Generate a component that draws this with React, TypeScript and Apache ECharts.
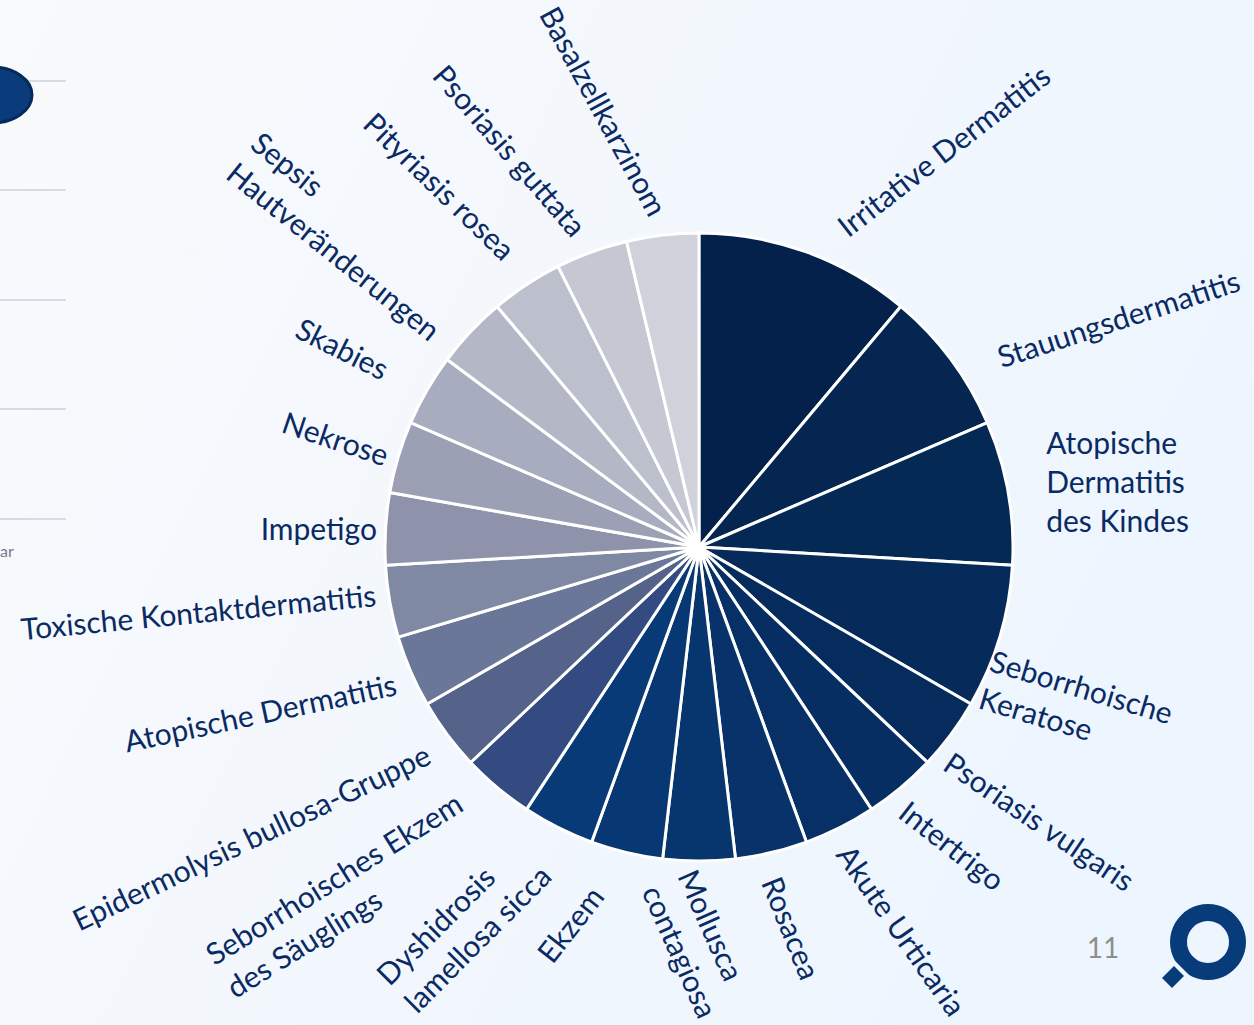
import React, { useEffect, useRef } from "react";
import * as echarts from "echarts";

// ---------- data ----------
const CATEGORIES = [
  "Irritative Dermatitis",
  "Stauungsdermatitis",
  "Atopische\nDermatitis\ndes Kindes",
  "Seborrhoische\nKeratose",
  "Psoriasis vulgaris",
  "Intertrigo",
  "Akute Urticaria",
  "Rosacea",
  "Mollusca\ncontagiosa",
  "Ekzem",
  "Dyshidrosis\nlamellosa sicca",
  "Seborrhoisches Ekzem\ndes Säuglings",
  "Epidermolysis bullosa-Gruppe",
  "Atopische Dermatitis",
  "Toxische Kontaktdermatitis",
  "Impetigo",
  "Nekrose",
  "Skabies",
  "Sepsis\nHautveränderungen",
  "Pityriasis rosea",
  "Psoriasis guttata",
  "Basalzellkarzinom",
];

const VALUES = [3, 2, 2, 2, 1, 1, 1, 1, 1, 1, 1, 1, 1, 1, 1, 1, 1, 1, 1, 1, 1, 1];

// ---------- styles ----------
const SLICE_COLORS = [
  "#03214a",
  "#052651",
  "#052955",
  "#062a59",
  "#062c5e",
  "#062e62",
  "#073066",
  "#07336a",
  "#07356e",
  "#073873",
  "#083a78",
  "#334b80",
  "#55638a",
  "#6a7798",
  "#7f89a3",
  "#8e92ab",
  "#9ba0b4",
  "#a8acbf",
  "#b3b7c6",
  "#bcbfcc",
  "#c5c8d2",
  "#cfd2da",
];

// label rotation (degrees, counter-clockwise positive)
const LABEL_ROTATE = [37.7, 18, 0, -16.6, -34, -38, -55, -68, -66, 52, 45, 32, 25.5, 12, 5.5, 0, -18.4, -26.6, -38.8, -44, -49, -61.5];
// distance of the label anchor outside the pie (radial and horizontal parts)
const LABEL_LINE_LEN = [24.3, 4.3, 64.4, 142.4, 41.1, 25.4, 23.1, 26.2, 18, 38.5, 32, 37.2, 29.4, 29.4, -44, 8.6, 6.6, 40, 19.8, 36.9, 22.2, 22.4];
const LABEL_LINE_LEN2 = [26.3, 43.7, -25.5, -150.3, -35.8, -13.2, -5.4, -5.6, -29, 21.6, 12.6, 4.2, -4.4, -12.2, 57, 0, 3.9, 5.4, 7.3, -4.6, 3, 0];

const TEXT_COLOR = "#0a2a63";
const FONT = "Lato, 'Noto Sans', sans-serif";
const FONT_SIZE = 30;
const LINE_HEIGHT = 39;
const BG_LOGO = "#eff6fe";
const GRID_Y = [81, 190, 300, 409, 519];

export default function App() {
  const ref = useRef<HTMLDivElement>(null);

  useEffect(() => {
    const chart = echarts.init(ref.current as HTMLDivElement, null, { renderer: "svg" });

    const data = CATEGORIES.map((name, i) => ({
      name,
      value: VALUES[i],
      itemStyle: { color: SLICE_COLORS[i] },
      label: { rotate: LABEL_ROTATE[i] },
      labelLine: { length: LABEL_LINE_LEN[i], length2: LABEL_LINE_LEN2[i] },
    }));

    chart.setOption({
      animation: false,
      backgroundColor: new echarts.graphic.LinearGradient(0, 0, 1, 0.4, [
        { offset: 0, color: "#f9fafc" },
        { offset: 1, color: "#edf5fe" },
      ]),
      series: [
        {
          type: "pie",
          center: [699, 547],
          radius: 314,
          startAngle: 90.01,
          clockwise: true,
          avoidLabelOverlap: false,
          labelLayout: { hideOverlap: false, moveOverlap: null },
          silent: true,
          emphasis: { disabled: true },
          itemStyle: { borderColor: "#ffffff", borderWidth: 3 },
          label: {
            show: true,
            position: "outside",
            distanceToLabelLine: 0,
            fontFamily: FONT,
            fontSize: FONT_SIZE,
            lineHeight: LINE_HEIGHT,
            color: TEXT_COLOR,
            formatter: (p: any) =>
              String(p.name)
                .split("\n")
                .map((s: string) => `{t|${s}}`)
                .join("\n"),
            rich: {
              t: {
                fontFamily: FONT,
                fontSize: FONT_SIZE,
                lineHeight: LINE_HEIGHT,
                color: TEXT_COLOR,
                align: "left",
              },
            },
          },
          labelLine: { show: false },
          data,
        },
      ],
      graphic: [
        ...GRID_Y.map((y) => ({
          type: "line",
          silent: true,
          shape: { x1: 0, y1: y, x2: 66, y2: y },
          style: { stroke: "#d8dbe3", lineWidth: 2 },
        })),
        {
          type: "ellipse",
          silent: true,
          shape: { cx: -8, cy: 95, rx: 40, ry: 28 },
          style: { fill: "#0a3b7b", stroke: "#042a5c", lineWidth: 3 },
        },
        {
          type: "text",
          silent: true,
          x: 0,
          y: 550,
          style: { text: "ar", fontSize: 16, fontFamily: FONT, fill: "#6f7a8c", verticalAlign: "middle" },
        },
        {
          type: "text",
          silent: true,
          x: 1103,
          y: 947,
          style: { text: "11", fontSize: 28, fontFamily: FONT, fill: "#8e8e8e", align: "center", verticalAlign: "middle" },
        },
        {
          type: "ring",
          silent: true,
          shape: { cx: 1208, cy: 942, r: 38, r0: 21 },
          style: { fill: "#073b79" },
        },
        {
          type: "line",
          silent: true,
          shape: { x1: 1170, y1: 958, x2: 1192, y2: 980 },
          style: { stroke: BG_LOGO, lineWidth: 3 },
        },
        {
          type: "polygon",
          silent: true,
          shape: { points: [[1174, 966], [1184, 976], [1172, 988], [1162, 978]] },
          style: { fill: "#073b79" },
        },
      ],
    });

    return () => chart.dispose();
  }, []);

  return (
    <div
      ref={ref}
      style={{ position: "absolute", left: 0, top: 0, width: 1254, height: 1025 }}
    />
  );
}
